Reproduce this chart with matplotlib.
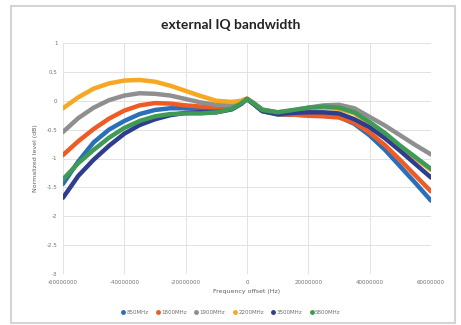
import matplotlib
matplotlib.use("Agg")
import matplotlib.pyplot as plt
from matplotlib.patches import Rectangle

# frequency offset in MHz (converted to Hz when plotting)
offset_mhz = [-60, -55, -50, -45, -40, -35, -30, -25, -20, -15, -10, -5, -2, 0,
              2, 5, 10, 15, 20, 25, 30, 35, 40, 45, 50, 55, 60]

lvl_850 = [-1.44, -1.05, -0.72, -0.50, -0.35, -0.23, -0.16, -0.13, -0.13, -0.14, -0.15, -0.13, -0.05, 0.03,
           -0.05, -0.18, -0.24, -0.24, -0.25, -0.26, -0.28, -0.40, -0.60, -0.85, -1.14, -1.43, -1.73]
lvl_1800 = [-0.94, -0.70, -0.49, -0.31, -0.17, -0.08, -0.04, -0.05, -0.08, -0.10, -0.11, -0.10, -0.04, 0.03,
            -0.04, -0.17, -0.23, -0.24, -0.26, -0.27, -0.29, -0.38, -0.55, -0.77, -1.03, -1.30, -1.57]
lvl_1900 = [-0.54, -0.30, -0.12, 0.01, 0.09, 0.13, 0.12, 0.09, 0.03, -0.03, -0.07, -0.08, -0.03, 0.03,
            -0.03, -0.15, -0.20, -0.17, -0.12, -0.08, -0.07, -0.13, -0.28, -0.43, -0.60, -0.77, -0.93]
lvl_2200 = [-0.13, 0.06, 0.21, 0.30, 0.35, 0.36, 0.33, 0.26, 0.17, 0.08, 0.00, -0.02, 0.00, 0.04,
            -0.05, -0.17, -0.22, -0.18, -0.14, -0.12, -0.14, -0.22, -0.39, -0.58, -0.80, -1.00, -1.20]
lvl_3500 = [-1.68, -1.30, -1.02, -0.78, -0.57, -0.42, -0.32, -0.25, -0.21, -0.20, -0.20, -0.15, -0.06, 0.03,
            -0.05, -0.18, -0.23, -0.21, -0.20, -0.20, -0.22, -0.32, -0.46, -0.65, -0.87, -1.10, -1.33]
lvl_5800 = [-1.36, -1.08, -0.85, -0.64, -0.47, -0.35, -0.27, -0.23, -0.22, -0.22, -0.20, -0.14, -0.05, 0.03,
            -0.04, -0.16, -0.20, -0.16, -0.12, -0.10, -0.12, -0.20, -0.37, -0.56, -0.78, -0.98, -1.18]

series = [
    ("850MHz", lvl_850, "#2a6fb8"),
    ("1800MHz", lvl_1800, "#ef5b25"),
    ("1900MHz", lvl_1900, "#8f8f8f"),
    ("2200MHz", lvl_2200, "#f7a823"),
    ("3500MHz", lvl_3500, "#2f3d8f"),
    ("5800MHz", lvl_5800, "#3f9a55"),
]

x_ticks = [-60000000, -40000000, -20000000, 0, 20000000, 40000000, 60000000]
y_ticks = [-3, -2.5, -2, -1.5, -1, -0.5, 0, 0.5, 1]

fig = plt.figure(figsize=(4.61, 3.25), dpi=100)
fig.patches.append(Rectangle((11 / 461, 2 / 325), 444 / 461, 317 / 325,
                             transform=fig.transFigure, fill=False,
                             edgecolor="#d4d4d4", linewidth=1.5))

ax = fig.add_axes([63 / 461, 51 / 325, 368 / 461, 231 / 325])
x_hz = [f * 1e6 for f in offset_mhz]
for name, vals, col in series:
    ax.plot(x_hz, vals, color=col, linewidth=3.2, solid_capstyle="round",
            solid_joinstyle="round", label=name)

ax.set_xlim(-60000000, 60000000)
ax.set_ylim(-3, 1)
ax.set_xticks(x_ticks)
ax.set_xticklabels([str(t) for t in x_ticks])
ax.set_yticks(y_ticks)
ax.set_yticklabels([f"{t:g}" for t in y_ticks])
ax.tick_params(length=0, labelsize=4, labelcolor="#707070", pad=4)
ax.grid(True, color="#e2e2e2", linewidth=0.7)
ax.set_axisbelow(True)
for s in ax.spines.values():
    s.set_visible(False)

ax.set_xlabel("Frequency offset (Hz)", fontsize=4.5, color="#606060", labelpad=3)
ax.set_ylabel("Normalized level (dB)", fontsize=4.5, color="#606060", labelpad=6)

fig.text(0.5, 300 / 325, "external IQ bandwidth", ha="center", va="center",
         fontsize=10, fontweight="bold", family="Lato", color="#222222")

handles = [plt.Line2D([], [], marker="o", linestyle="none", color=c, markersize=2.5)
           for _, _, c in series]
fig.legend(handles, [n for n, _, _ in series], loc="center", bbox_to_anchor=(0.5, 13 / 325),
           ncol=6, frameon=False, fontsize=4, labelcolor="#707070",
           handletextpad=0.1, columnspacing=1.2, handlelength=1)

fig.savefig("out.png", dpi=100)
